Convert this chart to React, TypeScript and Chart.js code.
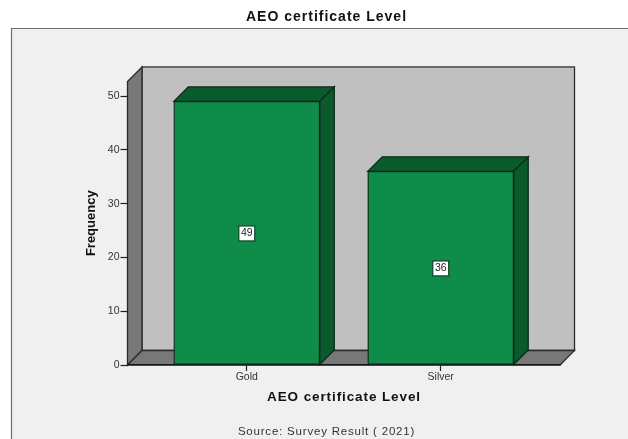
import React, { useEffect, useRef } from "react";
import { Chart, registerables } from "chart.js";

Chart.register(...registerables);

const categories = ["Gold", "Silver"];
const frequencies = [49, 36];
const yTicks = [0, 10, 20, 30, 40, 50];
const chartTitle = "AEO certificate Level";
const xTitle = "AEO certificate Level";
const yTitle = "Frequency";
const sourceNote = "Source: Survey Result ( 2021)";

const FONT = "'Liberation Sans', Arial, sans-serif";
const DX = 14.5;
const DY = -14.5;
const INK = "#1c1c1c";

const poly = (ctx: CanvasRenderingContext2D, pts: number[][], fill: string, stroke: string, lw = 1.3) => {
  ctx.beginPath();
  pts.forEach(([x, y], i) => (i ? ctx.lineTo(x, y) : ctx.moveTo(x, y)));
  ctx.closePath();
  ctx.fillStyle = fill;
  ctx.fill();
  ctx.lineWidth = lw;
  ctx.strokeStyle = stroke;
  ctx.lineJoin = "miter";
  ctx.stroke();
};

const text = (ctx: CanvasRenderingContext2D, s: string, x: number, y: number, font: string, color: string, spacing = "0px") => {
  ctx.save();
  ctx.font = font;
  ctx.fillStyle = color;
  ctx.textAlign = "center";
  ctx.textBaseline = "middle";
  (ctx as any).letterSpacing = spacing;
  ctx.fillText(s, x, y);
  ctx.restore();
};

const scene3d = {
  id: "scene3d",
  beforeDraw(chart: any) {
    const { ctx, chartArea: a } = chart;
    ctx.save();
    ctx.fillStyle = "#ffffff";
    ctx.fillRect(0, 0, chart.width, chart.height);
    ctx.fillStyle = "#f0f0f0";
    ctx.fillRect(11, 28, chart.width, chart.height);
    ctx.strokeStyle = "#6e6e6e";
    ctx.lineWidth = 1.2;
    ctx.beginPath();
    ctx.moveTo(11.5, chart.height);
    ctx.lineTo(11.5, 28.5);
    ctx.lineTo(chart.width, 28.5);
    ctx.stroke();
    // back wall
    poly(ctx, [[a.left + DX, a.top + DY], [a.right + DX, a.top + DY], [a.right + DX, a.bottom + DY], [a.left + DX, a.bottom + DY]], "#c0c0c0", "#2a2a2a");
    ctx.strokeStyle = "#6e6e6e";
    ctx.lineWidth = 1.4;
    ctx.beginPath();
    ctx.moveTo(a.left + DX, a.top + DY);
    ctx.lineTo(a.right + DX, a.top + DY);
    ctx.stroke();
    // side wall
    poly(ctx, [[a.left, a.top], [a.left + DX, a.top + DY], [a.left + DX, a.bottom + DY], [a.left, a.bottom]], "#787878", "#2a2a2a");
    // floor
    poly(ctx, [[a.left, a.bottom], [a.left + DX, a.bottom + DY], [a.right + DX, a.bottom + DY], [a.right, a.bottom]], "#787878", "#2a2a2a");
    ctx.restore();
  },
  beforeDatasetsDraw(chart: any) {
    const { ctx } = chart;
    ctx.save();
    chart.getDatasetMeta(0).data.forEach((bar: any) => {
      const l = bar.x - bar.width / 2;
      const r = bar.x + bar.width / 2;
      const t = bar.y;
      const b = bar.base;
      poly(ctx, [[l, t], [l + DX, t + DY], [r + DX, t + DY], [r, t]], "#0a5a2c", "#10281a");
      poly(ctx, [[r, t], [r + DX, t + DY], [r + DX, b + DY], [r, b]], "#0a5a2c", "#10281a");
    });
    ctx.restore();
  },
  afterDatasetsDraw(chart: any) {
    const { ctx } = chart;
    ctx.save();
    chart.getDatasetMeta(0).data.forEach((bar: any, i: number) => {
      const cy = (bar.y + bar.base) / 2;
      const cx = bar.x;
      ctx.fillStyle = "#ffffff";
      ctx.strokeStyle = "#0f4d2b";
      ctx.lineWidth = 1.3;
      ctx.fillRect(cx - 8, cy - 7, 16, 15);
      ctx.strokeRect(cx - 8, cy - 7, 16, 15);
      text(ctx, String(frequencies[i]), cx, cy + 0.5, `10.5px ${FONT}`, INK);
    });
    ctx.restore();
  },
  afterDraw(chart: any) {
    const { ctx } = chart;
    text(ctx, chartTitle, 326.5, 17.5, `bold 14px ${FONT}`, "#111111", "1px");
    text(ctx, xTitle, 344, 397.5, `bold 13.5px ${FONT}`, "#111111", "0.9px");
    text(ctx, sourceNote, 326.5, 431.5, `11.5px ${FONT}`, "#333333", "0.8px");
  },
};

export default function App() {
  const ref = useRef<HTMLCanvasElement>(null);
  useEffect(() => {
    const chart = new Chart(ref.current as HTMLCanvasElement, {
      type: "bar",
      data: {
        datasets: [
          {
            label: yTitle,
            data: frequencies.map((y, x) => ({ x, y })),
            backgroundColor: "#0f8c4a",
            borderColor: "#10281a",
            borderWidth: 1.3,
            borderSkipped: false,
            barThickness: 146,
          },
        ],
      },
      options: {
        animation: false,
        responsive: false,
        devicePixelRatio: 1,
        layout: { padding: { top: 81.5, right: 68, left: 0, bottom: 0 } },
        plugins: { legend: { display: false }, tooltip: { enabled: false }, title: { display: false } },
        scales: {
          x: {
            type: "linear",
            offset: false,
            min: -0.615,
            max: 1.615,
            afterFit: (s: any) => {
              s.height = 74;
            },
            afterBuildTicks: (s: any) => {
              s.ticks = categories.map((_, value) => ({ value }));
            },
            ticks: {
              callback: (v: any) => categories[v as number] ?? "",
              font: { family: FONT, size: 10.5 },
              color: "#333333",
              padding: 0,
              maxRotation: 0,
              autoSkip: false,
            },
            grid: { display: true, offset: false, drawOnChartArea: false, drawTicks: true, tickLength: 6, tickColor: "#222222", tickWidth: 1.2 },
            border: { display: true, color: "#151515", width: 1.3 },
            title: { display: false },
          },
          y: {
            type: "linear",
            min: 0,
            max: 52.7,
            afterFit: (s: any) => {
              s.width = 127.5;
            },
            afterBuildTicks: (s: any) => {
              s.ticks = yTicks.map((value) => ({ value }));
            },
            ticks: {
              font: { family: FONT, size: 10.5 },
              color: "#333333",
              padding: 1,
            },
            grid: { display: true, drawOnChartArea: false, drawTicks: true, tickLength: 7, tickColor: "#222222", tickWidth: 1.2 },
            border: { display: false },
            title: {
              display: true,
              text: yTitle,
              color: "#111111",
              font: { family: FONT, size: 13, weight: "bold" },
              padding: { top: 84, bottom: 0 },
            },
          },
        },
      } as any,
      plugins: [scene3d],
    });
    return () => chart.destroy();
  }, []);
  return (
    <canvas
      ref={ref}
      width={628}
      height={439}
      style={{ position: "absolute", left: 0, top: 0, width: 628, height: 439, display: "block" }}
    />
  );
}
